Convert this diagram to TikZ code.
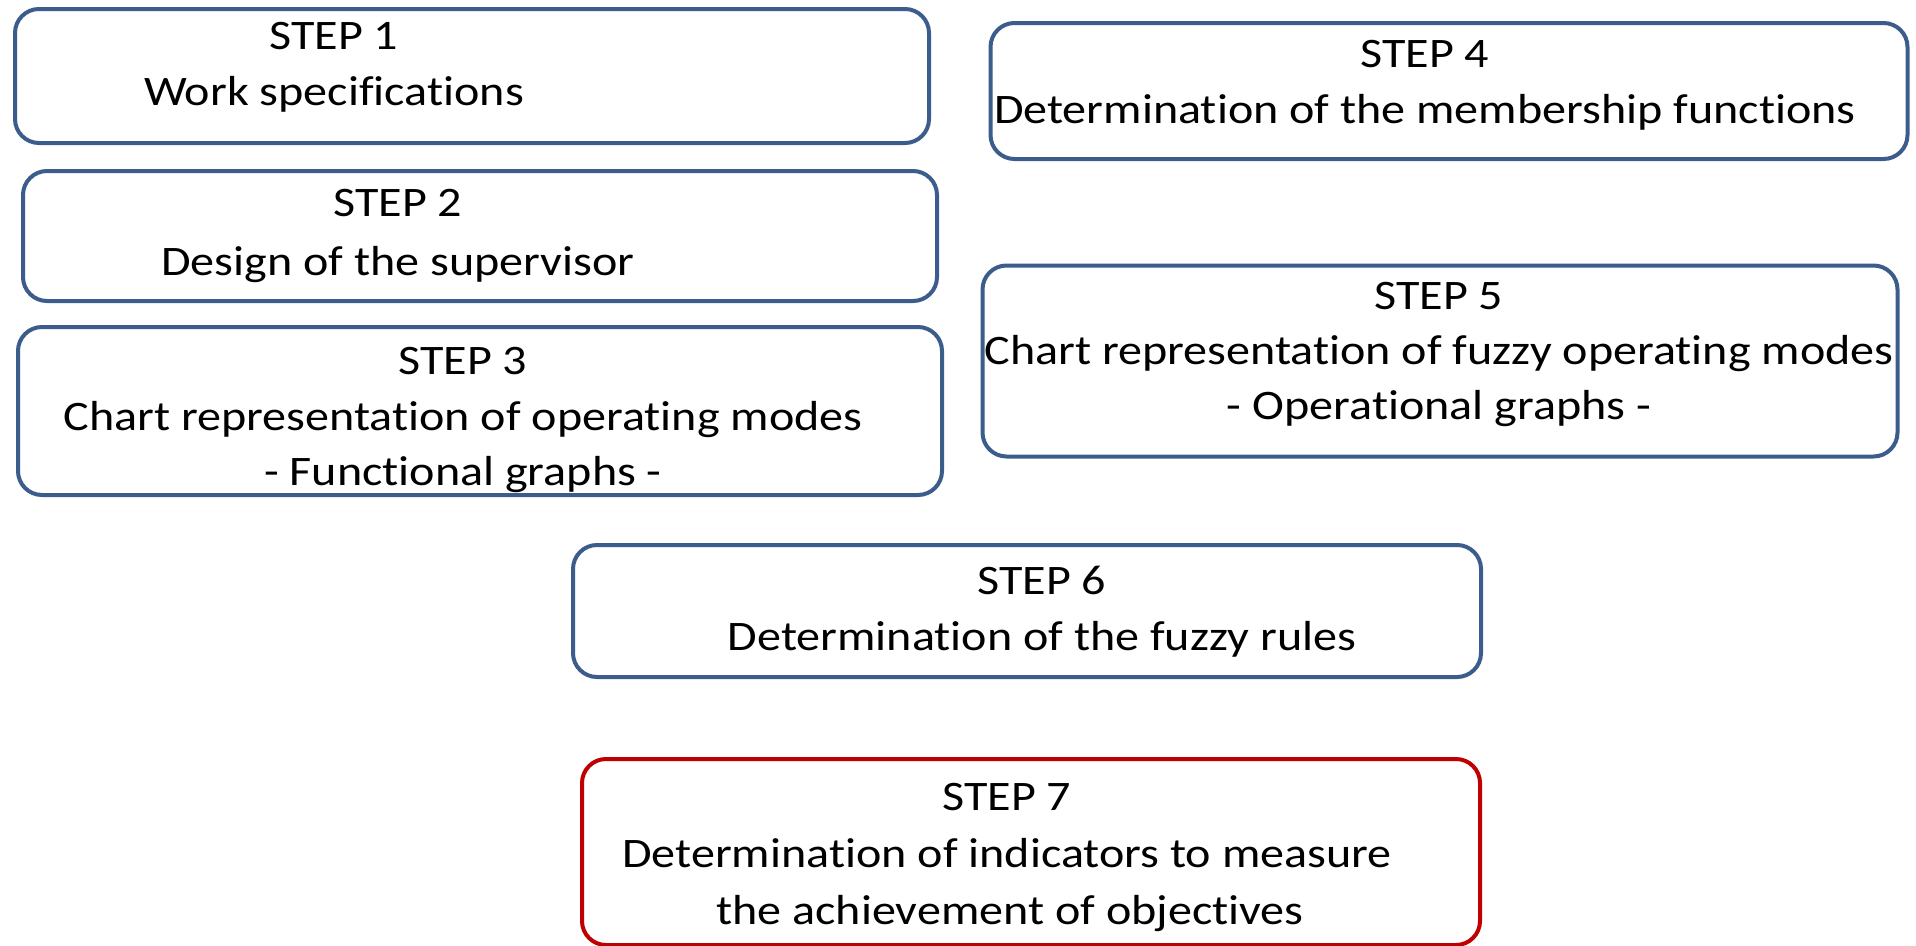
\documentclass[tikz,border=0pt]{standalone}
\usepackage{fontspec}
\setmainfont{Carlito}[FakeStretch=1.145, RawFeature=-liga]
\definecolor{boxblue}{RGB}{60,93,140}
\definecolor{boxred}{RGB}{192,0,0}
\begin{document}
\begin{tikzpicture}[x=1pt,y=-1pt,
  stepbox/.style={draw=boxblue, line width=4pt, rounded corners=24pt,
    inner sep=0pt, fill=white},
  redbox/.style={stepbox, draw=boxred},
  steptext/.style={anchor=base, inner sep=0pt, font=\fontsize{42}{52}\selectfont}]
\useasboundingbox (0,0) rectangle (1916,945);

% boxes
\node[stepbox, minimum width=914pt, minimum height=134pt] (b1) at (472,76) {};
\node[stepbox, minimum width=914pt, minimum height=130pt] (b2) at (480,236) {};
\node[stepbox, minimum width=924pt, minimum height=168pt] (b3) at (480,411) {};
\node[stepbox, minimum width=917pt, minimum height=136pt] (b4) at (1449,91) {};
\node[stepbox, minimum width=915pt, minimum height=191pt] (b5) at (1440,361) {};
\node[stepbox, minimum width=908pt, minimum height=132pt] (b6) at (1027,611) {};
\node[redbox, minimum width=898pt, minimum height=186pt] (b7) at (1031,852) {};

% step 1
\node[steptext] (t1a) at (334,49) {STEP 1};
\node[steptext] (t1b) at (334,105) {Work specifications};
% step 2
\node[steptext] (t2a) at (398,216) {STEP 2};
\node[steptext] (t2b) at (398,275) {Design of the supervisor};
% step 3
\node[steptext] (t3a) at (463,374) {STEP 3};
\node[steptext] (t3b) at (463,430) {Chart representation of operating modes};
\node[steptext] (t3c) at (463,485) {- Functional graphs -};
% step 4
\node[steptext] (t4a) at (1425,67) {STEP 4};
\node[steptext] (t4b) at (1425,123) {Determination of the membership functions};
% step 5
\node[steptext] (t5a) at (1439,309) {STEP 5};
\node[steptext] (t5b) at (1439,364) {Chart representation of fuzzy operating modes};
\node[steptext] (t5c) at (1439,419) {- Operational graphs -};
% step 6
\node[steptext] (t6a) at (1042,594) {STEP 6};
\node[steptext] (t6b) at (1042,650) {Determination of the fuzzy rules};
% step 7
\node[steptext] (t7a) at (1007,810) {STEP 7};
\node[steptext] (t7b) at (1007,867) {Determination of indicators to measure};
\node[steptext] (t7c) at (1010,924) {the achievement of objectives};
\end{tikzpicture}
\end{document}
